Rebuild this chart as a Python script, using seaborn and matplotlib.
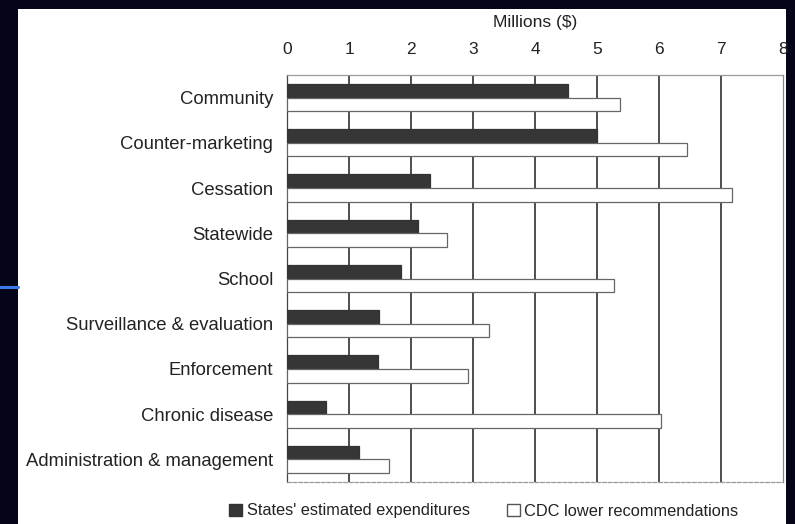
import matplotlib
matplotlib.use("Agg")
import matplotlib.pyplot as plt
import matplotlib.patches as mpatches
import matplotlib.lines as mlines
import seaborn as sns
import pandas as pd
import numpy as np

categories = ["Community", "Counter-marketing", "Cessation", "Statewide", "School",
              "Surveillance & evaluation", "Enforcement", "Chronic disease",
              "Administration & management"]
states_expenditures = [4.53, 5.00, 2.31, 2.11, 1.84, 1.49, 1.46, 0.63, 1.16]
cdc_lower = [5.37, 6.45, 7.18, 2.58, 5.28, 3.26, 2.92, 6.03, 1.65]
series_names = ["States' estimated expenditures", "CDC lower recommendations"]
x_ticks = [0, 1, 2, 3, 4, 5, 6, 7, 8]

df = pd.DataFrame({
    "category": categories * 2,
    "value": states_expenditures + cdc_lower,
    "series": [series_names[0]] * len(categories) + [series_names[1]] * len(categories),
})

sns.set_theme(style="white")
plt.rcParams["font.family"] = ["Liberation Sans", "DejaVu Sans"]

W, H = 795, 524
fig = plt.figure(figsize=(W / 100, H / 100), dpi=100)
fig.patch.set_facecolor("#05051a")
# white slide panel
panel = mpatches.Rectangle((18 / W, 0), (786 - 18) / W, 1 - 9 / H,
                           transform=fig.transFigure, facecolor="white",
                           edgecolor="none", zorder=-10)
fig.add_artist(panel)
fig.add_artist(mlines.Line2D([0, 18 / W], [1 - 287 / H, 1 - 287 / H],
                             transform=fig.transFigure, color="#3a7ae8", lw=2.2, zorder=-5))

ax = fig.add_axes([287 / W, 1 - 482 / H, (783 - 287) / W, (482 - 75) / H])
ax.set_zorder(5)
ax.set_facecolor("white")

sns.barplot(data=df, y="category", x="value", hue="series", orient="h",
            palette=["#363636", "white"], edgecolor="#666666", linewidth=0.9,
            width=0.6, gap=0, ax=ax, legend=False, zorder=3)
for bar in ax.patches[:len(categories)]:
    bar.set_edgecolor("#333333")

ax.set_xlim(0, 8)
ax.set_ylim(len(categories) - 0.5, -0.5)
ax.set_xticks(x_ticks)
ax.set_xticklabels([str(t) for t in x_ticks])
ax.xaxis.tick_top()
ax.xaxis.set_label_position("top")
ax.set_xlabel("Millions ($)", fontsize=12.5, labelpad=11, color="#222222")
ax.set_ylabel("")
ax.tick_params(axis="x", length=0, labelsize=12.5, pad=13, colors="#222222")
ax.tick_params(axis="y", which="major", length=0, labelsize=13.3, pad=10, colors="#222222")

ax.set_yticks(np.arange(-0.5, len(categories), 1.0), minor=True)
ax.tick_params(axis="y", which="minor", length=5, width=0.8, color="#777777", direction="out")

ax.grid(axis="x", which="major", color="#303030", lw=1.2, zorder=1)
ax.grid(axis="y", visible=False)
ax.set_axisbelow(True)
ax.xaxis.get_gridlines()[-1].set_visible(False)
ax.xaxis.get_gridlines()[0].set_visible(False)

for side, sp in ax.spines.items():
    sp.set_visible(True)
    sp.set_linewidth(0.9)
ax.spines["left"].set_color("#444444")
ax.spines["top"].set_color("#999999")
ax.spines["top"].set_linestyle((0, (4, 1)))
ax.spines["bottom"].set_color("#999999")
ax.spines["bottom"].set_linestyle((0, (3, 1.5)))
ax.spines["right"].set_color("#888888")

handles = [mpatches.Patch(facecolor="#363636", edgecolor="#333333", label=series_names[0]),
           mpatches.Patch(facecolor="white", edgecolor="#555555", label=series_names[1])]
fig.legend(handles=handles, loc="center", bbox_to_anchor=(484 / W, 1 - 511 / H), ncol=2,
           frameon=False, fontsize=11.8, handlelength=0.75, handleheight=0.75,
           handletextpad=0.3, columnspacing=2.3, labelcolor="#222222")

fig.savefig("out.png", dpi=100, facecolor=fig.get_facecolor())
